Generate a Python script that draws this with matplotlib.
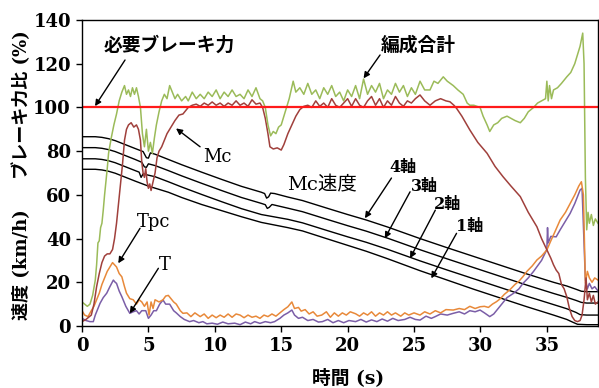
import numpy as np
import matplotlib
matplotlib.use("Agg")
from matplotlib import pyplot as plt

# brake force ratio (%) - whole train
total_t = [0, 0.2, 0.4, 0.6, 0.8, 1.0, 1.1, 1.2, 1.3, 1.4, 1.5, 1.6, 1.7, 1.8, 1.9, 2.0, 2.2, 2.4, 2.6, 2.8,
           3.0, 3.2, 3.35, 3.5, 3.65, 3.8, 3.95, 4.1, 4.25, 4.4, 4.55, 4.7, 4.85, 5.0, 5.15, 5.3, 5.45, 5.6, 5.8,
           6.0, 6.2, 6.4, 6.6, 6.8, 7.0, 7.2, 7.5, 7.8, 8.0, 8.3, 8.6, 8.9, 9.2, 9.5, 9.8, 10.1, 10.4, 10.7,
           11.0, 11.3, 11.6, 11.9, 12.2, 12.5, 12.8, 13.1, 13.4, 13.6, 13.8, 14.0, 14.2, 14.4, 14.6, 14.8,
           15.0, 15.2, 15.4, 15.6, 15.9, 16.1, 16.4, 16.7, 17.0, 17.3, 17.6, 17.9, 18.2, 18.5, 18.8, 19.1,
           19.4, 19.7, 20.0, 20.3, 20.6, 20.9, 21.2, 21.5, 21.8, 22.1, 22.4, 22.7, 23.0, 23.3, 23.6, 23.9,
           24.2, 24.5, 24.8, 25.1, 25.45, 25.8, 26.2, 26.5, 26.8, 27.2, 27.5, 27.95, 28.3, 28.7, 29.0, 29.2,
           29.5, 29.97, 30.2, 30.5, 30.7, 31.0, 31.3, 31.6, 32.0, 32.3, 32.6, 33.0, 33.3, 33.6, 34.0, 34.3,
           34.6, 34.9, 35.0, 35.1, 35.2, 35.35, 35.5, 35.8, 36.1, 36.5, 36.8, 37.1, 37.3, 37.5, 37.7, 37.8,
           37.9, 38.0, 38.1, 38.2, 38.35, 38.5, 38.65, 38.85]
total_v = [11, 10, 9, 10, 14, 21, 28, 38, 39, 45, 47, 53, 60, 66, 72, 79, 86, 92, 97, 103,
           107, 110, 106, 108, 105, 109, 106, 109, 105, 100, 88, 82, 90, 80, 84, 79, 86, 92, 98,
           103, 106, 104, 110, 107, 104, 106, 103, 105, 103, 107, 104, 106, 104, 107, 105, 108, 104, 107,
           105, 108, 105, 106, 104, 108, 105, 109, 104, 103, 100, 92, 87, 89, 88, 91,
           92, 96, 100, 104, 112, 107, 109, 106, 111, 106, 108, 104, 109, 106, 110, 105,
           107, 103, 108, 105, 110, 104, 113, 106, 110, 107, 111, 104, 108, 106, 111, 107,
           110, 105, 109, 106, 112, 108, 108, 112, 111, 114, 112, 110, 108, 106, 102, 101,
           101, 100, 96, 92, 89, 92, 93, 95, 96, 95, 94, 93, 95, 98, 100, 102,
           103, 104, 112, 103, 110, 104, 108, 109, 111, 114, 116, 120, 124, 128, 134, 120,
           68, 44, 52, 47, 51, 46, 49, 47]

# brake force ratio (%) - Mc car
mc_t = [0, 0.3, 0.5, 0.7, 0.9, 1.1, 1.3, 1.5, 1.7, 1.9, 2.1, 2.3, 2.45, 2.6, 2.75, 2.9, 3.05, 3.2, 3.35,
        3.5, 3.7, 3.9, 4.1, 4.25, 4.4, 4.5, 4.6, 4.7, 4.8, 4.9, 5.0, 5.1, 5.2, 5.35, 5.5, 5.65, 5.8, 6.0,
        6.2, 6.4, 6.6, 6.8, 7.0, 7.3, 7.6, 7.8, 8.0, 8.3, 8.6, 8.9, 9.2, 9.5, 9.8, 10.1, 10.4, 10.7, 11.0,
        11.3, 11.6, 11.9, 12.2, 12.5, 12.8, 13.1, 13.4, 13.6, 13.8, 14.0, 14.15, 14.4, 14.7, 15.0, 15.2,
        15.5, 15.8, 16.1, 16.4, 16.7, 17.0, 17.3, 17.6, 17.9, 18.2, 18.5, 18.8, 19.1, 19.4, 19.7, 20.0,
        20.3, 20.6, 20.9, 21.2, 21.5, 21.8, 22.1, 22.4, 22.7, 23.0, 23.3, 23.6, 23.9, 24.2, 24.5, 24.8,
        25.1, 25.45, 25.8, 26.2, 26.6, 27.0, 27.4, 27.7, 28.0, 28.2, 28.6, 29.2, 29.8, 30.5, 31.1, 31.7,
        32.3, 33.0, 33.6, 34.25, 34.6, 35.0, 35.3, 35.5, 35.7, 35.9, 36.1, 36.3, 36.5, 36.7, 36.9, 37.1,
        37.3, 37.5, 37.65, 37.8, 37.95, 38.05, 38.2, 38.35, 38.5, 38.65, 38.85]
mc_v = [2, 3, 4, 5, 10, 18, 24, 29, 32, 33, 33, 35, 40, 47, 56, 65, 74, 85, 90,
        92, 93, 91, 92, 90, 85, 75, 70, 68, 72, 66, 63, 65, 62, 66, 70, 77, 80, 82,
        85, 88, 90, 92, 94, 96.5, 97, 98.5, 100, 101, 101.5, 100.5, 102, 101, 102.5, 101, 102, 100.5, 102,
        101, 103, 101, 102, 100.5, 103.5, 101.5, 102, 100, 95, 88, 82, 81, 81.5, 80.5, 83,
        88, 92, 96, 99, 100.5, 101, 100, 103, 100.5, 102, 100, 104, 101, 100, 102, 104,
        100.5, 104, 101, 100, 103, 105, 101, 104, 100, 103, 101, 105, 102, 100.5, 103, 102,
        104, 105.7, 103, 101, 103, 104, 103, 102.6, 101, 99.6, 96, 89.7, 84, 79, 73, 68.3,
        64, 59.2, 52, 45.4, 40, 34.8, 31, 28, 25.6, 24, 19, 17, 13.4, 8, 4.3, 2.5,
        2, 2.5, 5, 12, 22, 12, 15, 11, 14, 10, 11]

# brake force ratio (%) - Tpc car
tpc_t = [0, 0.2, 0.45, 0.7, 0.9, 1.1, 1.3, 1.5, 1.7, 1.9, 2.1, 2.3, 2.45, 2.6, 2.8, 3.0, 3.2, 3.35, 3.6,
         3.86, 4.1, 4.3, 4.5, 4.7, 4.9, 5.05, 5.2, 5.35, 5.5, 5.8, 6.1, 6.3, 6.5, 6.7, 6.9, 7.1, 7.4, 7.6,
         7.9, 8.2, 8.5, 8.9, 9.2, 9.5, 9.8, 10.1, 10.4, 10.7, 11.0, 11.3, 11.6, 11.9, 12.2, 12.5, 12.8,
         13.1, 13.4, 13.7, 14.0, 14.3, 14.6, 14.9, 15.2, 15.5, 15.8, 16.0, 16.3, 16.5, 16.8, 17.1, 17.4,
         17.7, 18.05, 18.4, 18.7, 19.0, 19.3, 19.6, 19.9, 20.2, 20.6, 20.9, 21.2, 21.5, 21.8, 22.1, 22.4,
         22.7, 23.0, 23.3, 23.6, 24.0, 24.3, 24.6, 25.0, 25.45, 25.8, 26.2, 26.6, 27.0, 27.4, 27.95, 28.4,
         28.8, 29.2, 29.6, 29.97, 30.3, 30.6, 30.9, 31.2, 31.5, 31.8, 32.2, 32.6, 32.9, 33.2, 33.5, 33.9,
         34.25, 34.6, 35.0, 35.3, 35.6, 36.0, 36.4, 36.75, 37.1, 37.4, 37.6, 37.75, 37.9, 38.05, 38.2,
         38.4, 38.6, 38.85]
tpc_v = [7, 5, 4.3, 7, 9, 12, 15, 19, 22, 25, 27, 29, 28, 27, 24, 22.5, 18, 15, 12.5,
         12, 10, 12, 11, 9, 11, 5, 11, 8, 12, 11, 12, 13.7, 14, 12.5, 11, 10, 7, 5.8,
         6, 4.3, 6, 4.3, 5.5, 3.5, 5, 3.8, 5, 4, 5.5, 4, 5.5, 5, 3.8, 5, 4,
         4.5, 3.5, 5, 4.3, 5.5, 4.5, 6, 7.5, 8.8, 11, 8, 8.5, 6.8, 7.5, 5.5, 6.5,
         4.5, 5, 6.5, 4, 6, 4.5, 6, 5, 6.5, 5.6, 4.5, 6, 5, 6.5, 4.5, 6,
         5, 6.5, 5, 6, 4.5, 6, 5, 6, 5, 6.5, 5.5, 7, 6, 7.5, 7.3, 8,
         7.5, 9, 8, 8.8, 9, 8.5, 10, 11.1, 12.5, 14.5, 16.5, 19, 20.5, 22.6, 25, 27.5,
         30.2, 32, 34.8, 39, 43, 48.5, 52, 56, 60, 64, 66, 60, 19.6, 25, 22,
         20, 22, 21]

# brake force ratio (%) - T car
t_t = [0, 0.3, 0.6, 0.85, 1.0, 1.2, 1.36, 1.6, 1.86, 2.1, 2.36, 2.5, 2.6, 2.8, 3.0, 3.3, 3.6, 3.85, 4.1,
       4.3, 4.5, 4.8, 5.0, 5.2, 5.4, 5.6, 5.85, 6.1, 6.3, 6.6, 6.9, 7.1, 7.4, 7.7, 8.1, 8.4, 8.8, 9.1,
       9.4, 9.8, 10.2, 10.6, 11.0, 11.5, 11.9, 12.3, 12.7, 13.0, 13.4, 13.8, 14.2, 14.5, 14.9, 15.2,
       15.5, 15.8, 16.0, 16.3, 16.6, 17.0, 17.4, 17.8, 18.1, 18.5, 18.9, 19.3, 19.7, 20.1, 20.6, 21.0,
       21.4, 21.8, 22.2, 22.6, 23.0, 23.4, 23.8, 24.3, 24.7, 25.1, 25.45, 25.9, 26.3, 26.6, 27.0, 27.5,
       27.95, 28.4, 28.8, 29.2, 29.6, 29.97, 30.3, 30.7, 31.0, 31.2, 31.6, 32.0, 32.5, 32.9, 33.2, 33.6,
       34.0, 34.25, 34.6, 35.0, 35.05, 35.1, 35.3, 35.7, 36.0, 36.4, 36.75, 37.1, 37.5, 37.65, 37.9,
       38.05, 38.2, 38.4, 38.6, 38.85]
t_v = [3.5, 2.5, 2, 2, 5, 8, 10.4, 13, 15, 18, 21, 20, 19.5, 16, 13.4, 9, 5.8, 6.5, 7,
       5.5, 7, 7, 3.5, 5, 7, 7, 10, 11.9, 10, 10, 7, 6, 4.3, 3, 2, 2.5, 1.5, 2,
       1, 1.3, 0.8, 1.8, 1, 1.3, 0.6, 1.8, 1, 2, 1.2, 2, 1.5, 2, 3.5, 5,
       6, 7.3, 5, 3.5, 4, 2.5, 3, 1.8, 2, 3, 1.5, 2.5, 1.5, 2.5, 2, 3,
       1.8, 2.8, 2, 3.2, 2.2, 3.5, 2.5, 3, 4, 3, 2.7, 4.5, 3.5, 4.3, 5.5, 5,
       5.8, 6.5, 5.5, 7, 6.5, 7.3, 6, 4.3, 5.5, 7, 10, 13, 15, 17, 19.5, 22,
       25, 27.1, 30, 35, 45, 38, 41, 40.8, 44, 48, 51.5, 56, 62.2, 63, 21,
       17, 19.5, 17, 18, 16]

# Mc speed (km/h), axles 4..1
ax4_t = [0, 1.0, 1.5, 2.0, 2.5, 3.0, 3.5, 4.0, 4.6, 4.85, 5.0, 5.15, 5.5, 6.5, 7.5, 9.0, 10.5, 12.0,
         13.5, 13.75, 13.9, 14.05, 14.2, 14.5, 15.5, 16.6, 18.5, 20.0, 21.4, 23.0, 25.45, 27.5, 29.5,
         31.5, 33.5, 35.5, 36.5, 37.2, 37.6, 38.0, 38.85]
ax4_v = [86.6, 86.6, 86.3, 85.7, 84.8, 83.6, 82.4, 81.2, 79.8, 77.0, 76.8, 79.2, 78.6, 76.2, 73.8,
         70.4, 67.1, 63.9, 61.2, 60.6, 58.5, 59.1, 60.8, 60.6, 59.0, 57.4, 53.8, 51.0, 48.5, 45.3,
         40.0, 35.8, 31.8, 27.8, 23.8, 20.0, 18.3, 16.8, 15.9, 15.7, 15.7]
ax3_t = [0, 1.0, 1.5, 2.0, 2.5, 3.0, 3.5, 4.0, 4.5, 4.7, 4.85, 5.0, 5.5, 6.5, 7.5, 9.0, 10.5, 12.0,
         13.5, 13.8, 13.95, 14.1, 14.3, 15.5, 16.6, 18.5, 20.0, 21.4, 23.0, 25.45, 27.5, 29.5, 31.5,
         33.5, 35.5, 36.5, 37.2, 37.6, 38.0, 38.85]
ax3_v = [81.6, 81.6, 81.3, 80.7, 79.8, 78.6, 77.4, 76.2, 74.9, 72.8, 72.6, 74.2, 73.4, 71.1, 68.7,
         65.3, 62.0, 58.8, 56.1, 55.5, 53.8, 54.3, 55.6, 53.9, 52.3, 48.7, 45.9, 43.4, 40.2, 34.9,
         30.7, 26.7, 22.7, 18.7, 14.9, 13.1, 11.7, 10.8, 10.5, 10.5]
ax2_t = [0, 1.0, 1.5, 2.0, 2.5, 3.0, 3.5, 4.0, 4.3, 4.45, 4.6, 5.0, 5.5, 6.5, 7.5, 9.0, 10.5, 12.0,
         13.5, 15.5, 16.6, 18.5, 20.0, 21.4, 23.0, 25.45, 27.5, 29.5, 31.5, 33.5, 35.5, 36.5, 37.2,
         37.5, 38.0, 38.85]
ax2_v = [76.5, 76.5, 76.2, 75.6, 74.7, 73.5, 72.3, 71.1, 70.4, 68.0, 69.6, 69.0, 68.3, 66.0, 63.6,
         60.2, 56.9, 53.7, 51.0, 48.8, 47.2, 43.6, 40.8, 38.3, 35.1, 29.8, 25.6, 21.6, 17.6, 13.6,
         9.8, 7.9, 6.2, 5.2, 5.0, 5.0]
ax1_t = [0, 1.0, 1.5, 2.0, 2.5, 3.0, 3.5, 4.0, 5.0, 6.5, 7.5, 9.0, 10.5, 12.0, 13.5, 15.5, 16.6,
         18.5, 20.0, 21.4, 23.0, 25.45, 27.5, 29.5, 31.5, 33.5, 35.5, 36.5, 37.0, 37.3, 38.0, 38.85]
ax1_v = [71.7, 71.7, 71.4, 70.8, 69.9, 68.7, 67.5, 66.3, 64.0, 61.2, 58.8, 55.6, 52.8, 50.0, 47.4,
         45.0, 43.5, 39.8, 36.9, 34.2, 30.8, 25.3, 21.0, 16.8, 12.8, 8.8, 5.0, 3.0, 1.6, 0.8, 0.6, 0.6]

required_level = 100

GREEN = "#9bbb59"
DARKRED = "#a0403c"
ORANGE = "#e8893a"
PURPLE = "#7b5ea7"

serif = ["DejaVu Serif", "Noto Sans CJK JP"]
cjk = ["Noto Sans CJK JP", "DejaVu Sans"]

fig = plt.figure(figsize=(5.99, 3.88), dpi=100)
ax = fig.add_axes([82 / 599, 1 - 326 / 388, 516 / 599, 306 / 388])

ax.plot(ax4_t, ax4_v, color="black", lw=1.0)
ax.plot(ax3_t, ax3_v, color="black", lw=1.0)
ax.plot(ax2_t, ax2_v, color="black", lw=1.0)
ax.plot(ax1_t, ax1_v, color="black", lw=1.0)
ax.plot(t_t, t_v, color=PURPLE, lw=1.1)
ax.plot(tpc_t, tpc_v, color=ORANGE, lw=1.1)
ax.plot(mc_t, mc_v, color=DARKRED, lw=1.1)
ax.plot(total_t, total_v, color=GREEN, lw=1.1)
ax.axhline(required_level, color="#ff1a1a", lw=1.6)

ax.set_xlim(0, 38.85)
ax.set_ylim(0, 140)
ax.set_xticks(np.arange(0, 36, 5))
ax.set_yticks(np.arange(0, 141, 20))
ax.tick_params(direction="out", length=4, width=1, pad=4)
for lab in ax.get_xticklabels() + ax.get_yticklabels():
    lab.set_fontfamily("DejaVu Serif")
    lab.set_fontweight("bold")
    lab.set_fontsize(13)
for sp in ax.spines.values():
    sp.set_linewidth(1.0)

arrow = dict(arrowstyle="-|>", color="black", lw=1.0, mutation_scale=9, shrinkA=0, shrinkB=0)


def note(txt, pos, size, fam, weight="normal", start=None, tip=None):
    ax.text(pos[0], pos[1], txt, fontsize=size, family=fam, fontweight=weight,
            ha="center", va="center")
    if start is not None:
        ax.annotate("", xy=tip, xytext=start, arrowprops=arrow)


note("必要ブレーキ力", (6.6, 128.5), 13.5, cjk, "bold", (3.24, 121.7), (0.98, 100.6))
note("編成合計", (25.3, 128.5), 13.5, cjk, "bold", (22.44, 124.0), (21.2, 113.3))
note("Mc", (10.2, 77.3), 13, serif, "normal", (8.89, 82.0), (7.08, 90.4))
note("Mc速度", (18.05, 64.5), 14, serif)
note("4軸", (24.2, 72.3), 11.5, serif, "bold", (23.3, 67.7), (21.3, 49.3))
note("3軸", (25.75, 63.6), 11.5, serif, "bold", (24.7, 61.4), (22.8, 40.1))
note("2軸", (27.55, 55.4), 11.5, serif, "bold", (26.6, 53.0), (24.7, 31.0))
note("1軸", (29.2, 45.4), 11.5, serif, "bold", (28.2, 42.4), (26.3, 21.8))
note("Tpc", (5.4, 47.6), 13, serif, "normal", (4.37, 44.7), (2.73, 28.7))
note("T", (6.25, 27.9), 13, serif, "normal", (5.75, 26.4), (3.6, 5.8))

fig.text(22 / 599, 1 - 175 / 388, "速度 (km/h)　  ブレーキ力比 (%)", rotation=90,
         ha="center", va="center", fontsize=13, family=serif, fontweight="bold")
fig.text(348 / 599, 1 - 378 / 388, "時間 (s)", ha="center", va="center",
         fontsize=13.5, family=serif, fontweight="bold")

fig.savefig("out.png", dpi=100)
